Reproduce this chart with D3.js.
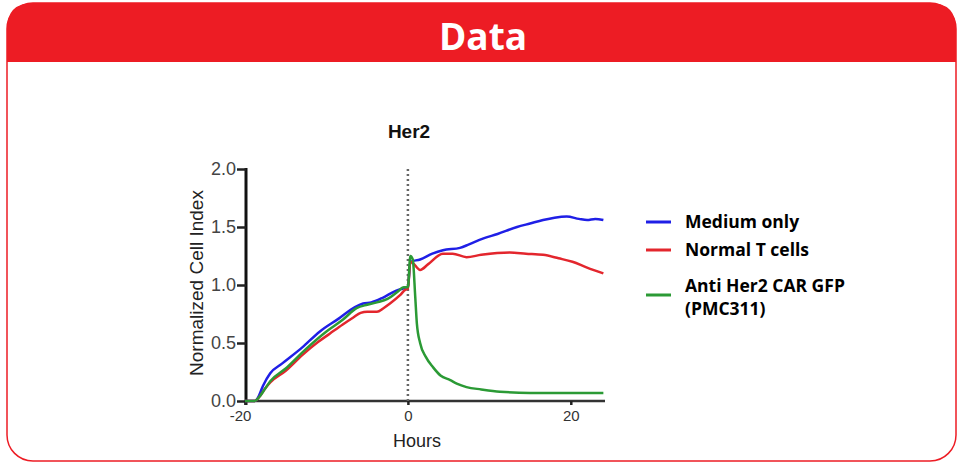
<!DOCTYPE html>
<html>
<head>
<script src="https://d3js.org/d3.v7.min.js" charset="utf-8"></script>
<style>
  body { margin: 0; background: #fff; }
  svg { display: block; }
</style>
</head>
<body>
<svg id="chart" width="964" height="462"></svg>
<script>
// data: [hours, normalized cell index]
const mediumOnly = [[-20,0],[-18.8,0],[-18.4,0.03],[-17.8,0.13],[-16.9,0.24],[-15.5,0.32],[-13,0.46],[-10.8,0.60],[-8.5,0.71],[-6.5,0.81],[-5.5,0.84],[-4.5,0.85],[-3.1,0.89],[-1.5,0.95],[-0.6,0.97],[0,0.98],[0.3,1.2],[1.5,1.22],[3,1.27],[4.3,1.30],[6.4,1.32],[7.5,1.35],[9.2,1.40],[11,1.44],[13.4,1.50],[15,1.53],[16.6,1.56],[18,1.58],[19.5,1.59],[21,1.57],[22,1.56],[23,1.57],[24,1.56]];
const normalT = [[-20,0],[-18.8,0],[-18.3,0.03],[-17.5,0.11],[-16.9,0.16],[-15,0.26],[-12.9,0.40],[-11,0.51],[-9.6,0.58],[-8,0.66],[-6.7,0.72],[-5.8,0.76],[-5.0,0.77],[-3.8,0.77],[-3,0.80],[-2.2,0.84],[-1,0.91],[-0.3,0.96],[0,0.97],[0.3,1.2],[0.6,1.19],[1.5,1.13],[2.5,1.18],[4.3,1.27],[5.5,1.27],[7.2,1.24],[9,1.26],[12.5,1.28],[14.5,1.27],[16.6,1.26],[18.5,1.23],[20.2,1.20],[22,1.15],[24,1.10]];
const antiHer2 = [[-20,0],[-18.8,0],[-18.3,0.03],[-17.5,0.11],[-16.9,0.17],[-15,0.28],[-12.5,0.45],[-10,0.60],[-8,0.70],[-6.3,0.80],[-5,0.83],[-3.8,0.85],[-2.5,0.88],[-1.3,0.94],[-0.5,0.98],[0,0.98],[0.3,1.25],[0.6,1.22],[0.9,0.9],[1.1,0.67],[1.5,0.50],[2.2,0.38],[3.1,0.29],[4,0.22],[5.2,0.18],[6,0.15],[7.2,0.12],[9,0.10],[11.3,0.08],[15,0.07],[20,0.07],[24,0.07]];

const seriesNames = ["Medium only", "Normal T cells", "Anti Her2 CAR GFP (PMC311)"];
const seriesData = [mediumOnly, normalT, antiHer2];
const seriesColors = ["#1f1fe6", "#e3262d", "#2b9a35"];
const yTicks = [0, 0.5, 1.0, 1.5, 2.0];
const xTicks = [-20, 0, 20];

const svg = d3.select("#chart");
const red = "#ed1c24";

// frame + header
const fx0 = 7, fx1 = 956, fy0 = 3, fy1 = 461, r = 26, hb = 62;
svg.append("rect")
    .attr("x", fx0).attr("y", fy0)
    .attr("width", fx1 - fx0).attr("height", fy1 - fy0)
    .attr("rx", r).attr("ry", r)
    .attr("fill", "#fff").attr("stroke", red).attr("stroke-width", 1.5);
svg.append("path")
    .attr("d", `M${fx0},${hb} L${fx0},${fy0 + r} Q${fx0},${fy0} ${fx0 + r},${fy0} L${fx1 - r},${fy0} Q${fx1},${fy0} ${fx1},${fy0 + r} L${fx1},${hb} Z`)
    .attr("fill", red);
svg.append("text")
    .attr("x", 483).attr("y", 50)
    .attr("text-anchor", "middle")
    .style("font-family", "'Open Sans', sans-serif")
    .style("font-weight", "bold")
    .style("font-size", "37px")
    .attr("fill", "#fff")
    .text("Data");

// scales
const x = d3.scaleLinear().domain([-20, 24.2]).range([245, 605]);
const y = d3.scaleLinear().domain([0, 2]).range([401, 169]);

const axisFont = "'Liberation Sans', Arial, sans-serif";

// y axis
const yAxis = svg.append("g")
    .attr("transform", "translate(246,0)")
    .call(d3.axisLeft(y).tickValues(yTicks).tickFormat(d3.format(".1f")).tickSize(9).tickPadding(1));
yAxis.select(".domain").attr("stroke", "#111").attr("stroke-width", 3)
    .attr("d", "M0,168V405");
yAxis.selectAll(".tick line").attr("stroke", "#222").attr("stroke-width", 2.5);
yAxis.selectAll(".tick text")
    .style("font-family", axisFont).style("font-size", "18px").attr("fill", "#444");

// x axis
const xAxis = svg.append("g")
    .attr("transform", "translate(0,401)")
    .call(d3.axisBottom(x).tickValues(xTicks).tickFormat(d => String(d)).tickSize(4).tickPadding(5));
xAxis.select(".domain").attr("stroke", "#333").attr("stroke-width", 2.5)
    .attr("d", "M245,0H605");
xAxis.selectAll(".tick line").attr("stroke", "#222").attr("stroke-width", 2.5);
xAxis.selectAll(".tick text")
    .style("font-family", axisFont).style("font-size", "15px").attr("fill", "#333");
xAxis.selectAll(".tick").filter(d => d === -20).select("text").attr("dx", -5);

// dotted line at 0
svg.append("line")
    .attr("x1", x(0)).attr("x2", x(0))
    .attr("y1", y(2)).attr("y2", y(0))
    .attr("stroke", "#666").attr("stroke-width", 2.5)
    .attr("stroke-dasharray", "2,3");

// axis titles
svg.append("text")
    .attr("x", 417).attr("y", 447)
    .attr("text-anchor", "middle")
    .style("font-family", axisFont).style("font-size", "18px").attr("fill", "#222")
    .text("Hours");
svg.append("text")
    .attr("transform", "translate(203,283) rotate(-90)")
    .attr("text-anchor", "middle")
    .style("font-family", axisFont).style("font-size", "19px").attr("fill", "#222")
    .text("Normalized Cell Index");
svg.append("text")
    .attr("x", 409).attr("y", 138)
    .attr("text-anchor", "middle")
    .style("font-family", axisFont).style("font-weight", "bold").style("font-size", "19px")
    .attr("fill", "#111")
    .text("Her2");

// series lines
const line = d3.line().x(d => x(d[0])).y(d => y(d[1])).curve(d3.curveMonotoneX);
svg.selectAll("path.series")
    .data(seriesData)
    .enter().append("path")
    .attr("class", "series")
    .attr("d", d => line(d))
    .attr("fill", "none")
    .attr("stroke", (d, i) => seriesColors[i])
    .attr("stroke-width", 2.5)
    .attr("stroke-linejoin", "round");

// legend
const legendY = [222, 250, 295];
const lg = svg.append("g");
seriesNames.forEach((name, i) => {
    lg.append("line")
        .attr("x1", 646).attr("x2", 671)
        .attr("y1", legendY[i]).attr("y2", legendY[i])
        .attr("stroke", seriesColors[i]).attr("stroke-width", 3);
    const t = lg.append("text")
        .attr("x", 685).attr("y", i < 2 ? legendY[i] + 6 : legendY[i] - 3)
        .style("font-family", "'Open Sans', sans-serif")
        .style("font-weight", "bold").style("font-size", "17.5px")
        .attr("fill", "#000");
    if (i < 2) {
        t.text(name);
    } else {
        t.append("tspan").attr("x", 685).text("Anti Her2 CAR GFP");
        t.append("tspan").attr("x", 685).attr("dy", 23).text("(PMC311)");
    }
});
</script>
</body>
</html>
